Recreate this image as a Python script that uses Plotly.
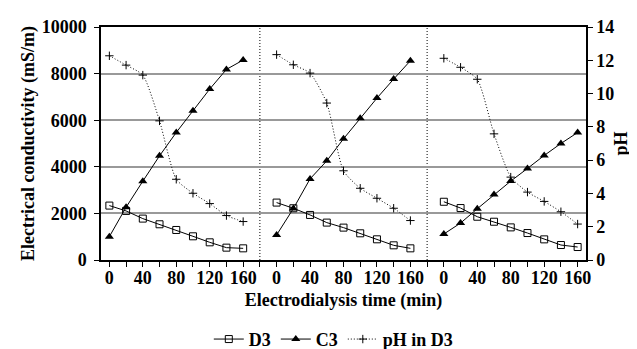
import plotly.graph_objects as go

# ---- data ----
times = [0, 20, 40, 60, 80, 100, 120, 140, 160]
tick_labels = ["0", "40", "80", "120", "160"]

d3_p1 = [2335, 2106, 1777, 1533, 1289, 1017, 759, 530, 501]
c3_p1 = [1003, 2264, 3381, 4470, 5473, 6404, 7335, 8181, 8582]
ph_p1 = [12.27, 11.71, 11.11, 8.36, 4.85, 4.01, 3.39, 2.67, 2.31]

d3_p2 = [2464, 2221, 1934, 1605, 1390, 1146, 888, 630, 501]
c3_p2 = [1074, 2206, 3481, 4255, 5201, 6089, 6948, 7765, 8553]
ph_p2 = [12.34, 11.73, 11.23, 9.43, 5.36, 4.31, 3.71, 3.11, 2.37]

d3_p3 = [2500, 2229, 1857, 1643, 1400, 1157, 886, 643, 557]
c3_p3 = [1114, 1586, 2200, 2814, 3386, 3929, 4486, 5000, 5471]
ph_p3 = [12.12, 11.58, 10.86, 7.58, 4.98, 4.08, 3.52, 2.90, 2.16]

ec_ticks = [0, 2000, 4000, 6000, 8000, 10000]
ph_ticks = [0, 2, 4, 6, 8, 10, 12, 14]

panels = [(d3_p1, c3_p1, ph_p1), (d3_p2, c3_p2, ph_p2), (d3_p3, c3_p3, ph_p3)]

FONT = "Liberation Serif"
FS = 18
step = times[1] - times[0]
n = len(times)
slot = n + 1  # one empty category between panels


def pos(panel, t):
    return panel * slot + t / step


fig = go.Figure()
for i, (d3, c3, ph) in enumerate(panels):
    xs = [pos(i, t) for t in times]
    fig.add_trace(go.Scatter(
        x=xs, y=d3, mode="lines+markers", name="D3", legendgroup="D3",
        showlegend=(i == 0),
        line=dict(color="black", width=1),
        marker=dict(symbol="square-open", size=7, color="black", line=dict(width=1))))
    fig.add_trace(go.Scatter(
        x=xs, y=c3, mode="lines+markers", name="C3", legendgroup="C3",
        showlegend=(i == 0),
        line=dict(color="black", width=1),
        marker=dict(symbol="triangle-up", size=8, color="black")))
    fig.add_trace(go.Scatter(
        x=xs, y=ph, mode="lines+markers", name="pH in D3", legendgroup="pH",
        showlegend=(i == 0), yaxis="y2",
        line=dict(color="black", width=1, dash="1px,2px", shape="spline", smoothing=0.6),
        marker=dict(symbol="cross-thin-open", size=6, color="black", line=dict(width=1, color="black"))))

last = pos(len(panels) - 1, times[-1])
tickvals = []
ticktext = []
for i in range(len(panels)):
    for t in times:
        tickvals.append(pos(i, t))
        ticktext.append(str(t) if str(t) in tick_labels else "")
    if i < len(panels) - 1:
        tickvals.append(pos(i, times[-1]) + 1)
        ticktext.append("")

shapes = []
for i in range(len(panels) - 1):
    xsep = pos(i, times[-1]) + 1
    shapes.append(dict(type="line", xref="x", yref="y", x0=xsep, x1=xsep, y0=0, y1=10000,
                       line=dict(color="black", width=1, dash="1px,2px"), layer="below"))

bold = dict(family=FONT, size=FS, weight="bold", color="black")

fig.update_layout(
    width=637, height=349,
    margin=dict(l=93, r=59, t=19, b=97, autoexpand=False),
    paper_bgcolor="white", plot_bgcolor="white",
    font=bold,
    shapes=shapes,
    xaxis=dict(
        range=[-0.5, last + 0.5], tickmode="array", tickvals=tickvals, ticktext=ticktext,
        automargin=False, ticklabelstandoff=-4,
        showgrid=False, zeroline=False, showline=True, linecolor="black", linewidth=1.5,
        mirror=True, ticks="outside", ticklen=5, tickcolor="black", tickwidth=1,
        tickfont=bold,
        title=dict(text="Electrodialysis time (min)", standoff=6, font=bold)),
    yaxis=dict(
        range=[0, 10000], tickmode="array", tickvals=ec_ticks,
        ticktext=[str(v) for v in ec_ticks], automargin=False, ticklabelstandoff=4,
        showgrid=True, gridcolor="#999999", gridwidth=1.5, zeroline=False,
        showline=True, linecolor="black", linewidth=1.5, ticks="outside", ticklen=5,
        tickcolor="black", tickfont=bold,
        title=dict(text="Electrical conductivity (mS/m)", standoff=2, font=bold)),
    yaxis2=dict(
        range=[0, 14], overlaying="y", side="right", tickmode="array",
        tickvals=ph_ticks, showgrid=False, zeroline=False, automargin=False,
        showline=True, linecolor="black", linewidth=1.5, ticks="outside", ticklen=5,
        tickcolor="black", tickfont=bold,
        title=dict(text="pH", standoff=1, font=bold)),
    legend=dict(orientation="h", x=0.48, xanchor="center", y=-0.42, yanchor="bottom",
                font=bold, itemwidth=30, traceorder="normal"),
)

fig.write_html("out.html")
